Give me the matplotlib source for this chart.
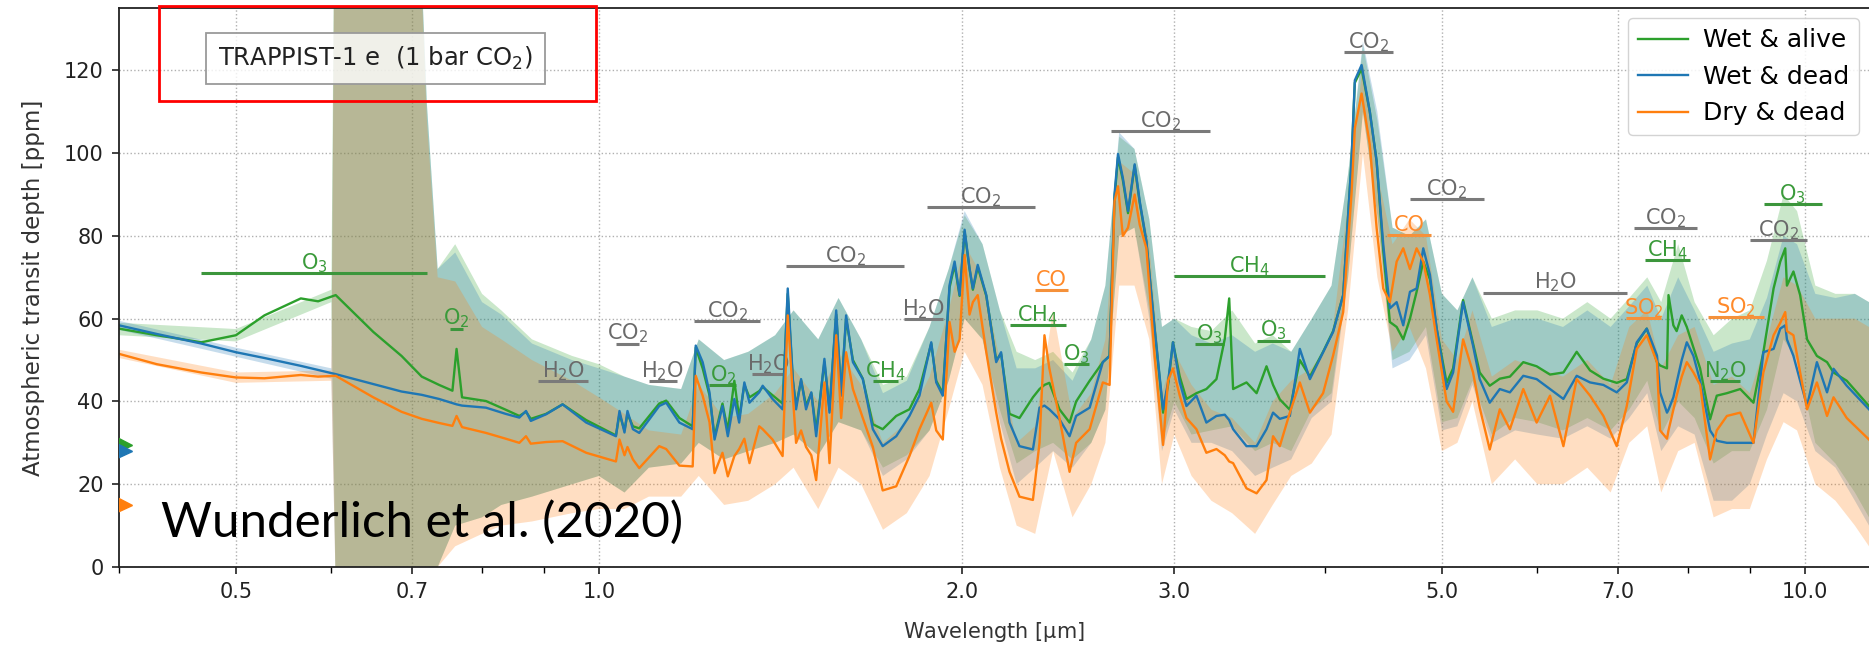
import numpy as np
import matplotlib
matplotlib.use('Agg')
import matplotlib.pyplot as plt
from matplotlib.patches import Rectangle
from matplotlib.ticker import FixedLocator, FixedFormatter, NullFormatter

plt.rcParams['font.family'] = ['DejaVu Sans']
plt.rcParams['mathtext.default'] = 'regular'

# ---------------- data ----------------
wl = [0.400, 0.430, 0.468, 0.500, 0.528, 0.566, 0.585, 0.605, 0.650, 0.686, 0.713,
      0.737, 0.756, 0.762, 0.770, 0.806, 0.837, 0.859, 0.870, 0.878, 0.904, 0.933, 0.976,
      1.033, 1.040, 1.050, 1.056, 1.067, 1.080, 1.122, 1.137, 1.166, 1.196, 1.203, 1.219,
      1.235, 1.247, 1.266, 1.279, 1.295,
      1.307, 1.320, 1.333, 1.358, 1.367, 1.393, 1.420, 1.434, 1.448, 1.457, 1.471, 1.485,
      1.500, 1.514, 1.538, 1.553, 1.573, 1.588, 1.603, 1.624, 1.655, 1.687, 1.719, 1.764,
      1.809, 1.844, 1.886, 1.904, 1.928, 1.953, 1.972, 1.991, 2.010, 2.029, 2.042, 2.061,
      2.095, 2.135, 2.155, 2.190, 2.232, 2.290, 2.319,
      2.341, 2.363, 2.409, 2.456, 2.487, 2.552, 2.617, 2.651, 2.676, 2.694, 2.719, 2.746,
      2.781, 2.808, 2.844, 2.889, 2.936, 2.964, 2.992, 3.031, 3.070, 3.129, 3.189, 3.251,
      3.303, 3.331, 3.356, 3.443, 3.510, 3.577, 3.622, 3.669, 3.740, 3.812, 3.886, 3.985,
      4.062, 4.141, 4.207,
      4.234, 4.289, 4.357, 4.414, 4.470, 4.527, 4.586, 4.644, 4.704, 4.764, 4.825, 4.887,
      4.950, 5.045, 5.108, 5.206, 5.306, 5.374, 5.478, 5.584, 5.693, 5.840, 5.991, 6.146,
      6.305, 6.467, 6.634, 6.805, 6.981, 7.116, 7.253, 7.393, 7.538,
      7.583, 7.684, 7.706, 7.778, 7.827, 7.903, 7.980, 8.082, 8.185, 8.343, 8.450, 8.615,
      8.837, 9.063, 9.236, 9.418, 9.539, 9.630, 9.661, 9.782, 9.908, 10.04, 10.23, 10.43,
      10.56, 10.83, 11.30]

wet_alive = [57.6, 56.0, 54.3, 56.0, 60.8, 64.9, 64.2, 65.7, 56.8, 51.0, 46.0,
             44.0, 42.6, 52.7, 41.0, 40.1, 38.0, 36.5, 37.5, 35.8, 37.0, 39.3, 35.5,
             31.8, 37.0, 33.0, 37.0, 34.0, 33.5, 39.5, 40.2, 36.0, 34.0, 53.0, 48.0,
             41.5, 31.5, 39.5, 33.0, 45.0,
             36.0, 44.0, 41.0, 42.5, 43.5, 41.5, 39.5, 66.0, 45.0, 39.0, 45.0, 39.0,
             42.0, 33.0, 49.5, 38.0, 61.0, 42.0, 60.0, 50.0, 45.5, 34.5, 33.3, 36.5,
             38.1, 43.0, 54.0, 45.0, 42.0, 67.5, 73.0, 65.5, 81.0, 72.0, 67.0, 72.5,
             65.5, 50.0, 51.5, 37.0, 36.0, 41.0, 43.0,
             44.0, 44.5, 38.1, 34.9, 40.0, 45.0, 49.5, 51.0, 89.0, 99.0, 93.5, 85.5,
             97.0, 88.0, 78.5, 57.5, 37.3, 44.0, 54.3, 46.0, 40.6, 42.0, 43.0, 45.4,
             55.1, 64.9, 43.0, 44.6, 42.0, 48.5, 44.0, 40.5, 38.0, 50.0, 46.0, 52.0,
             57.0, 65.7, 98.0,
             117.0, 120.4, 110.0, 98.0, 76.5, 59.2, 58.0, 55.0, 60.0, 66.5, 73.8, 69.5,
             57.6, 44.5, 48.0, 64.5, 54.0, 47.0, 43.8, 45.5, 46.0, 49.5, 48.5, 46.5,
             47.0, 52.0, 47.5, 45.5, 44.5, 45.4, 54.0, 57.6, 49.5,
             48.7, 48.0, 65.7, 58.4, 57.0, 60.8, 58.0, 53.0, 48.0, 35.7, 41.4, 42.0,
             43.0, 39.7, 51.9, 67.3, 73.8, 77.0, 68.0, 71.4, 65.7, 55.0, 51.0, 49.5,
             47.0, 45.0, 38.9]

wet_dead = [58.4, 56.3, 54.0, 51.9, 50.5, 48.6, 47.6, 46.6, 44.2, 42.4, 41.6,
            40.6, 39.6, 39.3, 39.0, 38.5, 37.0, 36.1, 37.7, 35.3, 36.9, 39.3, 34.9,
            31.6, 37.7, 32.5, 37.7, 33.3, 32.4, 38.9, 39.7, 34.9, 33.3, 53.5, 49.5,
            42.2, 30.8, 38.9, 31.6, 40.6,
            34.9, 44.6, 39.7, 42.2, 43.8, 40.6, 38.1, 67.3, 45.4, 38.1, 45.4, 38.1,
            42.2, 31.6, 50.3, 37.3, 62.0, 41.4, 60.8, 49.5, 45.4, 33.3, 29.2, 31.6,
            36.5, 41.4, 54.3, 44.6, 41.4, 68.1, 73.8, 65.7, 81.5, 72.2, 67.3, 73.0,
            65.7, 49.5, 51.9, 34.9, 29.2, 28.4, 38.5,
            39.0, 38.1, 35.7, 31.6, 36.5, 38.5, 49.5, 51.0, 90.0, 99.8, 94.0, 86.0,
            97.3, 88.4, 78.7, 57.6, 38.1, 44.6, 54.3, 44.6, 38.9, 41.4, 34.9, 36.5,
            36.8, 35.5, 33.3, 29.2, 29.2, 33.3, 37.3, 35.8, 36.5, 52.7, 45.4, 51.9,
            56.8, 65.7, 98.0,
            117.6, 121.3, 110.0, 98.0, 77.9, 62.5, 64.0, 58.4, 66.5, 67.3, 77.0, 70.6,
            57.6, 43.0, 47.0, 64.0, 53.5, 45.4, 39.7, 43.0, 42.2, 46.2, 45.4, 43.0,
            40.6, 46.2, 44.6, 44.0, 42.2, 44.6, 54.3, 57.6, 51.1,
            42.2, 37.3, 38.0, 41.0, 44.6, 50.0, 54.3, 51.0, 45.0, 33.0, 30.5, 30.0,
            30.0, 30.0, 51.9, 52.7, 57.6, 58.4, 55.0, 51.0, 45.0, 38.9, 49.5, 42.2,
            47.9, 43.8, 38.1]

dry_dead = [51.5, 49.0, 47.0, 45.8, 45.6, 46.4, 46.0, 46.2, 41.0, 37.5, 35.8,
            34.8, 34.1, 36.5, 33.8, 32.4, 31.0, 30.0, 31.6, 29.8, 30.2, 30.4, 27.6,
            25.5, 30.8, 27.0, 29.0, 26.0, 23.9, 29.2, 28.5, 24.5, 24.3, 46.2, 41.4,
            35.0, 22.7, 27.6, 21.9, 26.8,
            28.5, 31.0, 25.1, 34.0, 33.3, 30.8, 26.8, 60.8, 41.4, 30.0, 33.0, 29.0,
            27.0, 21.0, 44.6, 25.1, 56.0, 36.0, 51.9, 43.0, 36.0, 29.0, 18.5, 19.5,
            26.8, 33.3, 39.7, 33.0, 30.8, 59.2, 52.0, 55.0, 75.4, 61.0, 64.0, 65.7,
            51.9, 37.3, 31.0, 23.0, 17.0, 16.2, 30.0,
            56.0, 48.0, 36.0, 23.0, 30.0, 33.3, 44.6, 44.0, 88.4, 92.0, 80.0, 82.0,
            90.0, 82.7, 77.0, 51.0, 29.5, 45.0, 48.0, 41.4, 36.0, 33.3, 27.6, 28.5,
            27.0, 25.5, 25.1, 19.0, 17.8, 21.0, 31.6, 29.2, 37.3, 44.6, 37.3, 42.0,
            51.1, 61.6, 90.0,
            106.0, 114.4, 102.0, 81.9, 67.3, 64.0, 73.8, 77.0, 72.0, 77.0, 73.8, 65.7,
            55.0, 40.0, 37.5, 55.0, 47.0, 38.5, 28.4, 38.1, 33.3, 43.0, 34.9, 41.4,
            29.2, 45.4, 41.4, 36.5, 29.2, 38.9, 52.7, 56.0, 49.5,
            33.0, 31.0, 33.0, 38.0, 41.4, 46.0, 49.5, 47.0, 44.0, 26.0, 33.0, 36.5,
            37.3, 30.0, 47.0, 56.0, 59.0, 61.6, 57.0, 56.0, 47.0, 38.1, 44.6, 36.5,
            41.0, 36.0, 30.8]

# uncertainty envelopes (coarser wavelength grid)
band_wl = [0.40, 0.50, 0.60, 0.605, 0.68, 0.70, 0.72, 0.735, 0.76, 0.80,
           0.83, 0.88, 0.95, 1.00, 1.05, 1.10, 1.17, 1.21, 1.27, 1.33,
           1.40, 1.45, 1.52, 1.58, 1.65, 1.72, 1.80, 1.88, 1.95, 2.01,
           2.08, 2.15, 2.22, 2.30, 2.38, 2.47, 2.56, 2.63, 2.70, 2.78,
           2.86, 2.93, 3.00, 3.10, 3.22, 3.35, 3.50, 3.62, 3.75, 3.90,
           4.05, 4.18, 4.30, 4.42, 4.55, 4.70, 4.85, 5.00, 5.15, 5.30,
           5.50, 5.75, 6.00, 6.30, 6.60, 6.90, 7.15, 7.40, 7.60, 7.85,
           8.10, 8.40, 8.70, 9.00, 9.30, 9.60, 9.85, 10.2, 10.6, 11.0,
           11.3]
alive_hi = [59, 57.5, 67, 200, 200, 200, 112, 72, 78, 66,
            62, 55, 51, 49, 46, 44, 43, 55, 50, 52,
            56, 62, 55, 65, 55, 44, 46, 58, 72, 85,
            78, 62, 52, 50, 52, 47, 55, 68, 104, 101,
            84, 58, 60, 58, 57, 62, 54, 56, 52, 60,
            68, 95, 126, 108, 82, 80, 84, 66, 62, 70,
            60, 62, 62, 60, 64, 60, 65, 70, 64, 78,
            64, 56, 60, 62, 74, 90, 86, 68, 66, 66,
            64]
alive_lo = [56, 54.5, 64, -5, -5, -5, -5, 0, 10, 12,
            15, 17, 20, 22, 18, 24, 25, 30, 26, 28,
            30, 32, 27, 35, 33, 24, 27, 33, 45, 60,
            55, 38, 25, 28, 30, 26, 30, 38, 80, 82,
            62, 30, 40, 32, 33, 34, 28, 30, 28, 38,
            42, 70, 110, 85, 50, 52, 58, 35, 36, 45,
            32, 36, 35, 33, 36, 33, 38, 45, 32, 40,
            36, 25, 28, 28, 38, 55, 50, 30, 25, 18,
            12]
wdead_hi = [59.5, 53, 48, 200, 200, 200, 112, 72, 76, 64,
            61, 54, 50, 48, 46, 44, 43, 55, 50, 52,
            56, 62, 55, 65, 55, 42, 45, 58, 72, 86,
            78, 62, 48, 48, 50, 45, 55, 68, 105, 101,
            84, 58, 60, 56, 54, 56, 52, 54, 52, 60,
            68, 95, 127, 110, 82, 80, 84, 66, 62, 70,
            58, 60, 60, 58, 62, 58, 63, 68, 60, 70,
            62, 52, 54, 55, 65, 80, 78, 66, 65, 66,
            64]
wdead_lo = [57.3, 50.8, 45.5, -5, -5, -5, -5, 0, 10, 12,
            15, 17, 20, 22, 18, 24, 25, 30, 26, 28,
            30, 32, 27, 35, 33, 22, 26, 33, 45, 60,
            55, 35, 20, 24, 28, 24, 30, 38, 80, 82,
            60, 28, 38, 30, 30, 28, 22, 24, 26, 36,
            40, 70, 110, 85, 48, 50, 56, 33, 34, 44,
            30, 33, 32, 31, 34, 31, 36, 42, 28, 34,
            32, 16, 16, 20, 32, 42, 40, 28, 24, 16,
            10]
dry_hi = [52.5, 47, 47.5, 200, 200, 200, 108, 70, 69, 58,
          55, 50, 45, 41, 37, 33, 32, 44, 36, 37,
          42, 48, 40, 52, 44, 30, 35, 46, 62, 78,
          70, 50, 30, 34, 62, 36, 42, 55, 98, 95,
          78, 42, 52, 44, 38, 36, 30, 40, 45, 48,
          55, 88, 122, 95, 78, 84, 80, 55, 50, 62,
          46, 50, 48, 46, 50, 44, 58, 62, 48, 56,
          58, 44, 46, 42, 55, 70, 68, 60, 60, 60,
          58]
dry_lo = [50.5, 44.5, 45, -5, -5, -5, -5, 0, 5, 8,
          10, 11, 13, 14, 14, 17, 17, 22, 15, 16,
          20, 24, 14, 24, 20, 9, 13, 22, 38, 52,
          44, 24, 10, 8, 28, 12, 20, 30, 68, 68,
          55, 20, 32, 22, 16, 13, 8, 15, 22, 25,
          32, 62, 100, 70, 52, 58, 48, 28, 30, 40,
          20, 26, 20, 20, 24, 18, 30, 34, 18, 28,
          30, 12, 14, 14, 26, 35, 33, 20, 16, 10,
          5]

# edge markers on the y axis
edge_marks = [29.5, 28.0, 15.0]

# molecule annotations
mol_names = ['O$_3$', 'O$_2$', 'H$_2$O', 'CO$_2$', 'H$_2$O', 'O$_2$', 'CO$_2$', 'H$_2$O',
             'CO$_2$', 'CH$_4$', 'H$_2$O', 'CO$_2$', 'CO', 'CH$_4$', 'O$_3$', 'CO$_2$',
             'CH$_4$', 'O$_3$', 'O$_3$', 'CO$_2$', 'CO$_2$', 'CO', 'H$_2$O', 'SO$_2$',
             'CO$_2$', 'CH$_4$', 'N$_2$O', 'SO$_2$', 'O$_3$', 'CO$_2$']
mol_x0 = [0.468, 0.752, 0.89, 1.033, 1.10, 1.235, 1.20, 1.34,
          1.43, 1.687, 1.79, 1.87, 2.30, 2.19, 2.43, 2.66,
          3.0, 3.12, 3.51, 4.15, 4.70, 4.50, 5.41, 7.10,
          7.21, 7.37, 8.34, 8.31, 9.24, 9.00]
mol_x1 = [0.72, 0.772, 0.98, 1.08, 1.16, 1.30, 1.36, 1.425,
          1.79, 1.77, 1.93, 2.30, 2.45, 2.44, 2.55, 3.21,
          4.0, 3.30, 3.74, 4.55, 5.42, 4.90, 7.12, 7.60,
          8.13, 8.03, 8.84, 9.24, 10.33, 10.04]
mol_y = [71.1, 57.6, 45.0, 54.0, 45.0, 44.0, 59.5, 46.6,
         72.8, 45.0, 60.0, 87.0, 66.9, 58.5, 49.0, 105.3,
         70.4, 53.9, 54.7, 124.5, 88.8, 80.3, 66.3, 60.2,
         81.9, 74.2, 45.0, 60.4, 87.6, 79.0]
mol_kind = ['g', 'g', 'k', 'k', 'k', 'g', 'k', 'k',
            'k', 'g', 'k', 'k', 'o', 'g', 'g', 'k',
            'g', 'g', 'g', 'k', 'k', 'o', 'k', 'o',
            'k', 'g', 'g', 'o', 'g', 'k']

xticks = [0.5, 0.7, 1.0, 2.0, 3.0, 5.0, 7.0, 10.0]
xtick_labels = ['0.5', '0.7', '1.0', '2.0', '3.0', '5.0', '7.0', '10.0']
xminor = [0.4, 0.6, 0.8, 0.9, 4.0, 6.0, 8.0, 9.0]
yticks = [0, 20, 40, 60, 80, 100, 120]

GREEN, BLUE, ORANGE = '#2ca02c', '#1f77b4', '#ff7f0e'
XMIN, XMAX, YMIN, YMAX = 0.4, 11.3, 0, 135

# ---------------- figure ----------------
W, H = 1869, 649
fig = plt.figure(figsize=(W / 100, H / 100), dpi=100)
ax = fig.add_axes([119 / W, 82 / H, (W - 119) / W, (567 - 8.3) / H])
ax.set_xscale('log')
ax.set_xlim(XMIN, XMAX)
ax.set_ylim(YMIN, YMAX)

for lo, hi, c in [(alive_lo, alive_hi, GREEN), (wdead_lo, wdead_hi, BLUE),
                  (dry_lo, dry_hi, ORANGE)]:
    ax.fill_between(band_wl, lo, hi, color=c, alpha=0.25, lw=0, zorder=1)

ax.plot(wl, wet_alive, color=GREEN, lw=1.7, label='Wet & alive', zorder=2.2)
ax.plot(wl, wet_dead, color=BLUE, lw=1.7, label='Wet & dead', zorder=2.3)
ax.plot(wl, dry_dead, color=ORANGE, lw=1.7, label='Dry & dead', zorder=2.4)

for v, c in zip(edge_marks, [GREEN, BLUE, ORANGE]):
    ax.plot([XMIN], [v], marker='>', ms=18, color=c, mec=c, clip_on=True, zorder=3)

text_col = {'g': '#3a9a3a', 'k': '#6a6a6a', 'o': '#ff8a2a'}
bar_col = {'g': '#3c963c', 'k': '#7a7a7a', 'o': '#f5913a'}
for name, x0, x1, y, k in zip(mol_names, mol_x0, mol_x1, mol_y, mol_kind):
    ax.hlines(y, x0, x1, color=bar_col[k], lw=2.2, zorder=1.8)
    ax.text(np.sqrt(x0 * x1), y + 0.9, name, color=text_col[k], ha='center',
            va='baseline', fontsize=15, zorder=1.9)

# axes styling
ax.xaxis.set_major_locator(FixedLocator(xticks))
ax.xaxis.set_major_formatter(FixedFormatter(xtick_labels))
ax.xaxis.set_minor_locator(FixedLocator(xminor))
ax.xaxis.set_minor_formatter(NullFormatter())
ax.set_yticks(yticks)
ax.tick_params(axis='both', which='major', labelsize=15, length=5, width=1.2,
               direction='out', pad=6, colors='#222222')
ax.tick_params(axis='x', which='minor', length=4, width=1.0, direction='out')
ax.grid(True, which='major', ls=':', color='#b0b0b0', lw=1.0)
ax.set_axisbelow(True)
for s in ['left', 'bottom', 'top']:
    ax.spines[s].set_linewidth(1.3)
    ax.spines[s].set_color('#222222')
ax.spines['right'].set_visible(False)

ax.set_xlabel('Wavelength [$\\mu$m]', fontsize=15, labelpad=13, color='#333333')
ax.set_ylabel('Atmospheric transit depth [ppm]', fontsize=16.5, labelpad=14, color='#333333')

leg = ax.legend(loc='upper right', fontsize=18, handlelength=2.0, handletextpad=0.6,
                framealpha=0.85, borderaxespad=0.4, edgecolor='#cccccc')
leg.set_zorder(5)

fig.text(375.5 / W, 1 - 58.5 / H, 'TRAPPIST-1 e  (1 bar CO$_2$)', ha='center', va='center',
         fontsize=17.5, color='#222222', zorder=10,
         bbox=dict(boxstyle='square,pad=0.5', fc=(1, 1, 1, 0.8), ec='#9a9a9a', lw=1.3))

fig.add_artist(Rectangle((158.5 / W, 1 - 101 / H), (596 - 158.5) / W, (101 - 6) / H,
                         transform=fig.transFigure, fill=False, ec='#ff0000', lw=2.0,
                         zorder=20))

fig.text(161 / W, 1 - 537 / H, 'Wunderlich et al. (2020)', fontsize=35.5,
         family=['Lato', 'DejaVu Sans'], color='black', ha='left', va='baseline', zorder=20)

fig.savefig('out.png', dpi=100)
